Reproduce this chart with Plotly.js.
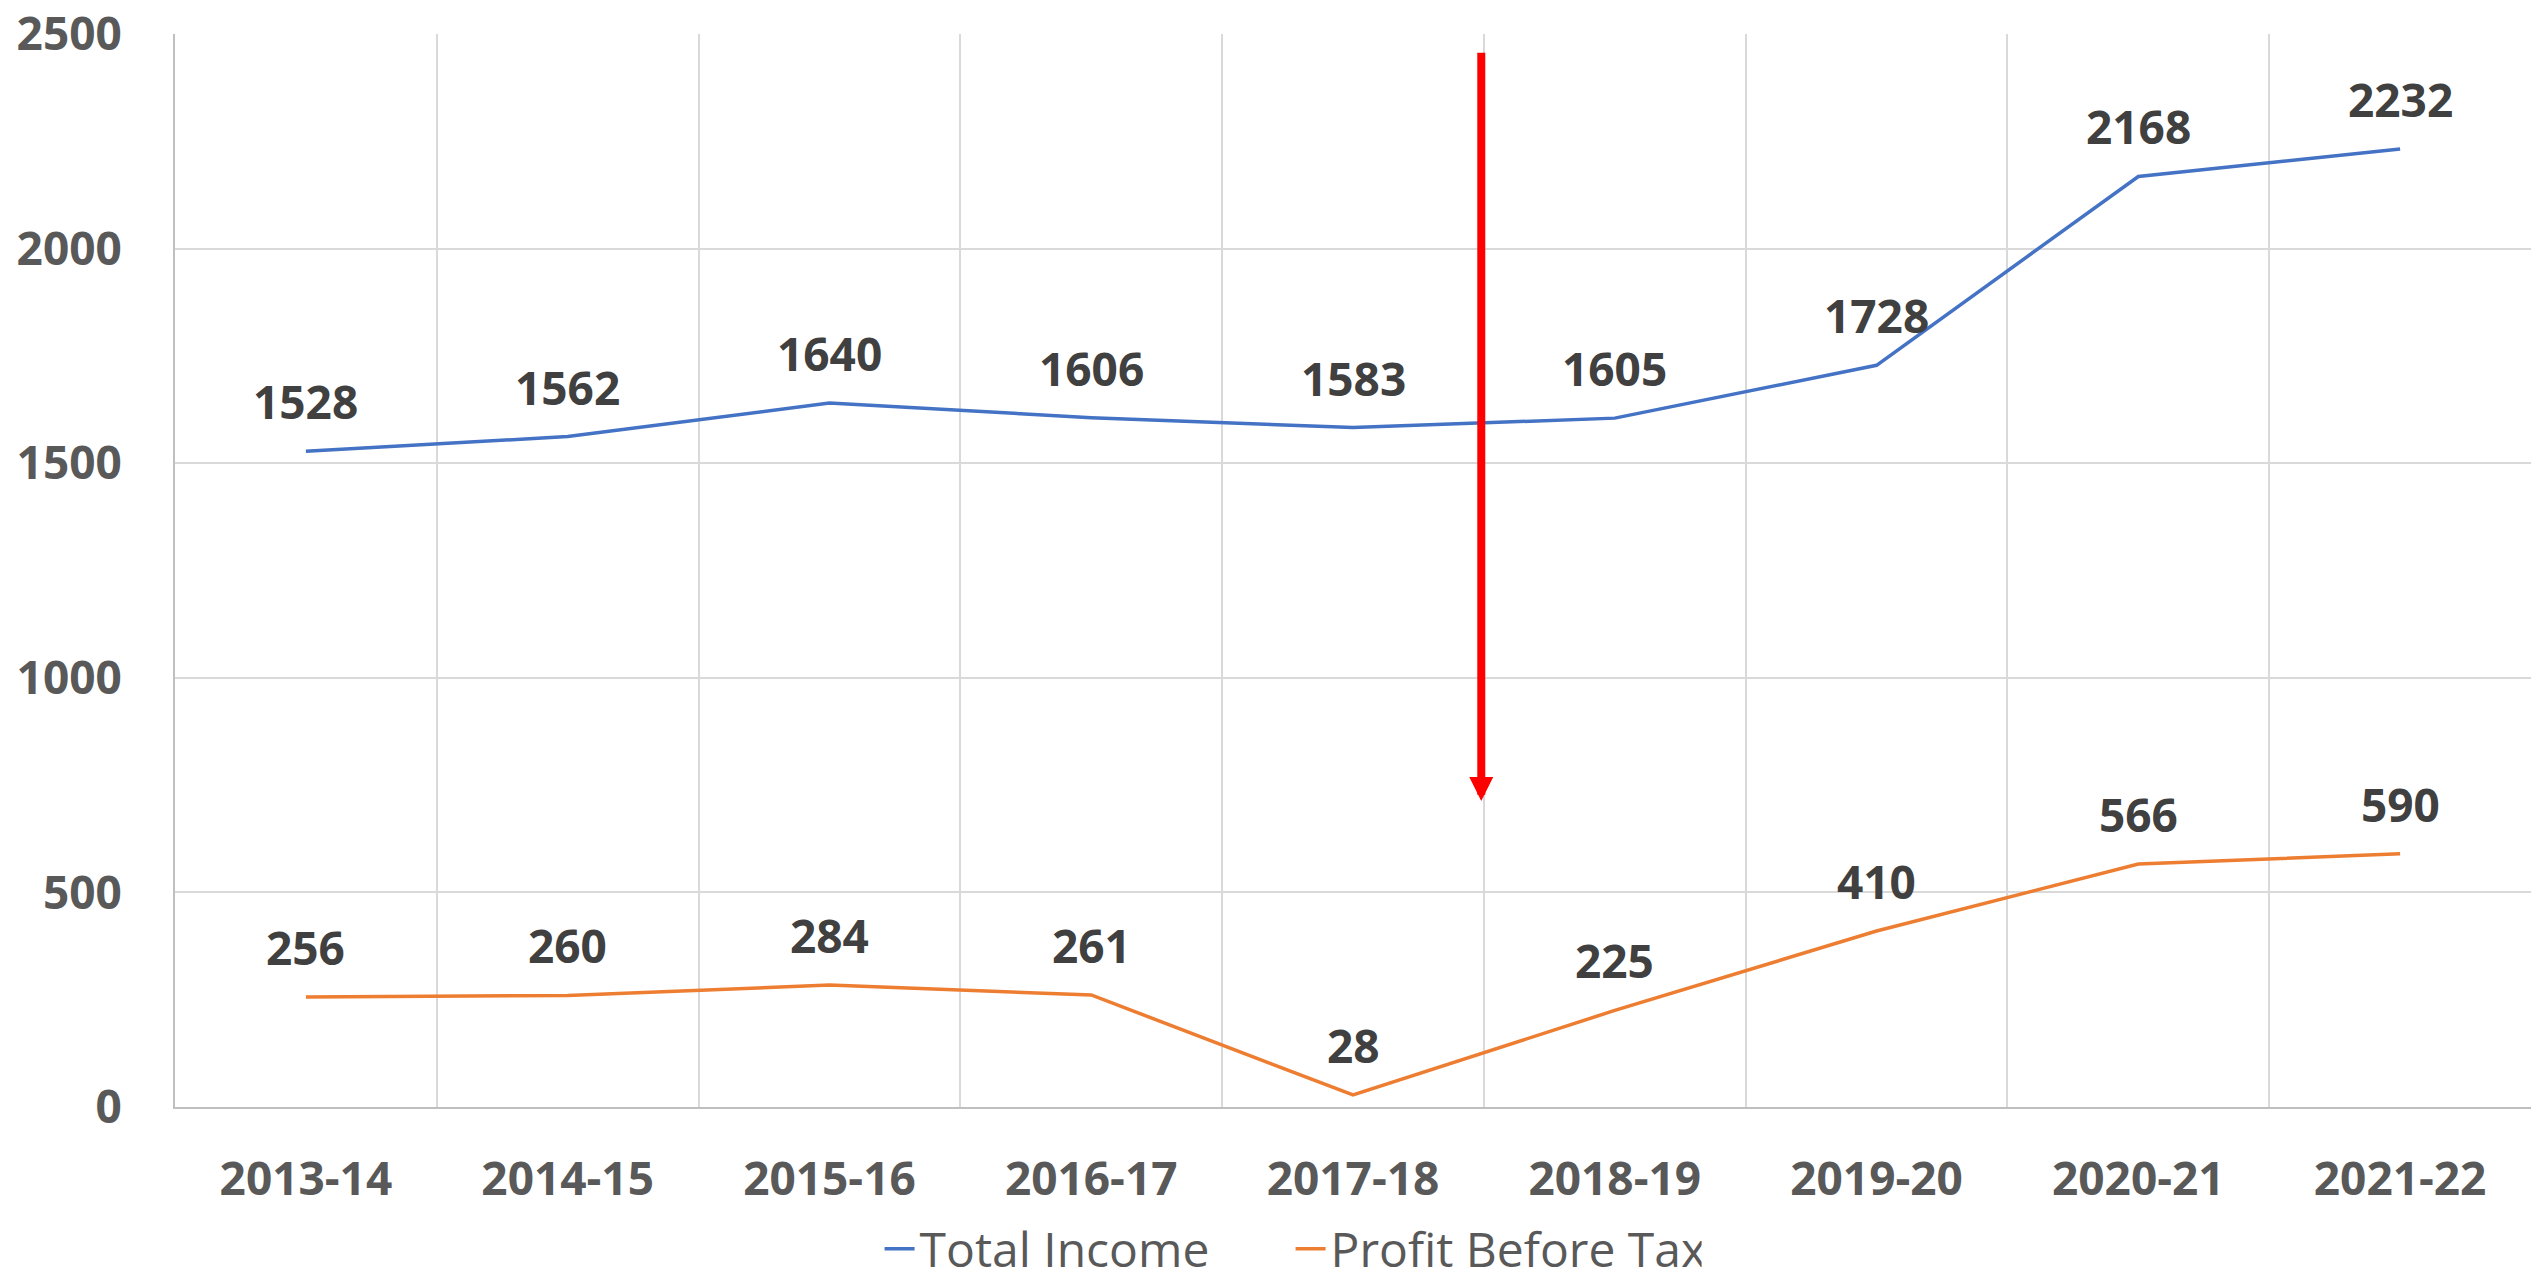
<!DOCTYPE html>
<html>
<head>
<meta charset="utf-8">
<script src="https://cdn.plot.ly/plotly-3.0.1.min.js"></script>
<style>html,body{margin:0;padding:0;background:#fff;}#chart{width:2539px;height:1287px;}</style>
</head>
<body>
<div id="chart"></div>
<script>
const categories = ['2013-14','2014-15','2015-16','2016-17','2017-18','2018-19','2019-20','2020-21','2021-22'];
const totalIncome = [1528,1562,1640,1606,1583,1605,1728,2168,2232];
const profitBeforeTax = [256,260,284,261,28,225,410,566,590];
const seriesNames = ['Total Income','Profit Before Tax'];
const yTicks = [0,500,1000,1500,2000,2500];

const FONT = 'Open Sans, Lato, sans-serif';

const traces = [
  {x: categories, y: totalIncome, name: seriesNames[0], type: 'scatter', mode: 'lines',
   line: {color: '#4472C4', width: 3.5}},
  {x: categories, y: profitBeforeTax, name: seriesNames[1], type: 'scatter', mode: 'lines',
   line: {color: '#ED7D31', width: 3.5}}
];

const annotations = [];
[totalIncome, profitBeforeTax].forEach(function(vals){
  vals.forEach(function(v, i){
    annotations.push({x: categories[i], y: v, xref: 'x', yref: 'y', text: String(v),
      showarrow: false, yshift: 50,
      font: {family: FONT, size: 46, color: '#404040', weight: 'bold'}});
  });
});
// red downward arrow on the 2017-18 / 2018-19 boundary
annotations.push({x: 4.49, y: 713, xref: 'x', yref: 'y', ax: 4.49, ay: 2460, axref: 'x', ayref: 'y',
  text: '', showarrow: true, arrowhead: 2, arrowsize: 0.6, arrowwidth: 8, arrowcolor: '#FF0000'});

const layout = {
  width: 2539, height: 1287,
  margin: {l: 175, r: 8, t: 34, b: 180, autoexpand: false},
  paper_bgcolor: '#ffffff', plot_bgcolor: '#ffffff',
  font: {family: FONT, color: '#595959'},
  showlegend: true,
  legend: {orientation: 'h', xref: 'container', yref: 'container', x: 0.5083, xanchor: 'center',
    y: 0, yanchor: 'bottom', entrywidth: 366, font: {family: FONT, size: 48, color: '#595959'},
    bgcolor: 'rgba(0,0,0,0)'},
  xaxis: {type: 'category', range: [-0.5, 8.5], tickson: 'boundaries', showgrid: true, gridcolor: '#D9D9D9', gridwidth: 2,
    showline: true, linecolor: '#BFBFBF', linewidth: 2, ticks: '', ticklabelstandoff: 31,
    tickfont: {family: FONT, size: 46, color: '#595959', weight: 'bold'}},
  yaxis: {range: [0, 2500], tickvals: yTicks, ticktext: yTicks.map(String), showgrid: true,
    gridcolor: '#D9D9D9', gridwidth: 2, zeroline: false, showline: true, linecolor: '#BFBFBF',
    linewidth: 2, ticks: '', ticklabelstandoff: 42, ticklabeloverflow: 'allow',
    tickfont: {family: FONT, size: 46, color: '#595959', weight: 'bold'}},
  annotations: annotations
};

Plotly.newPlot('chart', traces, layout, {displayModeBar: false, staticPlot: true});
</script>
</body>
</html>
